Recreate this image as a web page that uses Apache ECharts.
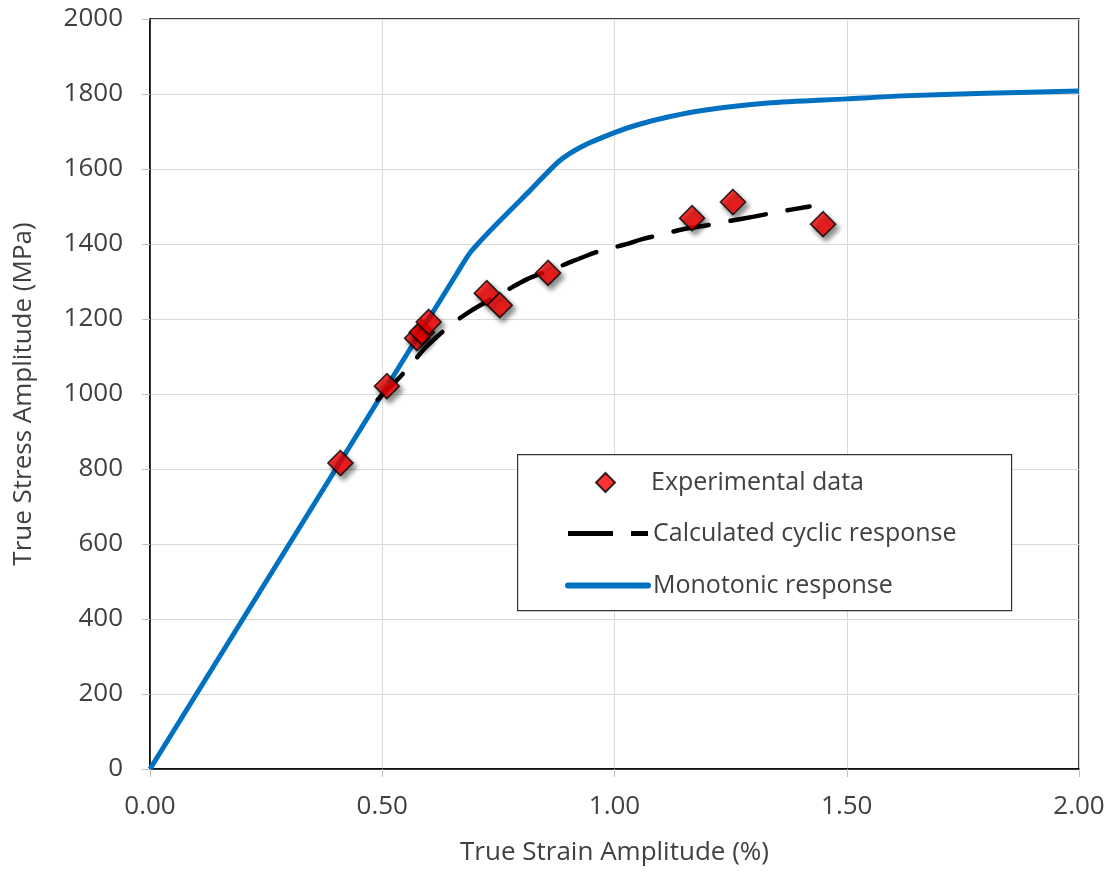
<!DOCTYPE html>
<html>
<head>
<meta charset="utf-8">
<script src="https://cdn.jsdelivr.net/npm/echarts@6/dist/echarts.min.js"></script>
<style>
html,body{margin:0;padding:0;background:#fff;}
#chart{width:1115px;height:872px;}
</style>
</head>
<body>
<div id="chart"></div>
<script>
// Experimental data (true strain amplitude %, true stress amplitude MPa)
const expStrain = [0.41, 0.51, 0.575, 0.585, 0.60, 0.725, 0.753, 0.857, 1.167, 1.255, 1.449];
const expStress = [816, 1021, 1149, 1165, 1192, 1269, 1237, 1323, 1469, 1512, 1453];

// Calculated cyclic response
const cycStrain = [0.49, 0.53, 0.56, 0.59, 0.62, 0.65, 0.69, 0.73, 0.77, 0.81, 0.85, 0.89, 0.93, 0.97, 1.02, 1.06, 1.10, 1.15, 1.20, 1.25, 1.30, 1.35, 1.42];
const cycStress = [985, 1035, 1075, 1120, 1155, 1187, 1221, 1250, 1278, 1305, 1325, 1344, 1364, 1382, 1398, 1413, 1425, 1440, 1450, 1462, 1473, 1485, 1500];

// Monotonic response
const monStrain = [0, 0.2, 0.4, 0.6, 0.66, 0.69, 0.75, 0.82, 0.88, 0.93, 1.0, 1.05, 1.12, 1.2, 1.33, 1.5, 1.62, 1.8, 2.0];
const monStress = [0, 400, 800, 1200, 1320, 1378, 1458, 1545, 1620, 1660, 1697, 1718, 1740, 1758, 1776, 1787, 1795, 1802, 1808];

const xTicks = [0, 0.5, 1.0, 1.5, 2.0];
const yTicks = [0, 200, 400, 600, 800, 1000, 1200, 1400, 1600, 1800, 2000];

const zip = (a, b) => a.map((v, i) => [v, b[i]]);
const FONT = 'Open Sans';
const TXT = '#404040';
const LEG_FS = 25;

const chart = echarts.init(document.getElementById('chart'), null, {renderer: 'canvas'});
chart.setOption({
  animation: false,
  backgroundColor: '#fff',
  textStyle: {fontFamily: FONT},
  grid: {left: 150, right: 36, top: 19, bottom: 103, show: true, borderColor: '#000', borderWidth: 1.5},
  graphic: [{
    type: 'rect', left: 517, top: 454, z: 90,
    shape: {width: 494, height: 156},
    style: {fill: '#fff', stroke: '#333', lineWidth: 1.2}
  }],
  xAxis: {
    type: 'value', min: xTicks[0], max: xTicks[xTicks.length - 1], interval: 0.5,
    name: 'True Strain Amplitude (%)', nameLocation: 'middle', nameGap: 71,
    nameTextStyle: {fontFamily: FONT, fontSize: 26, color: TXT},
    axisLine: {show: true, lineStyle: {color: '#000', width: 1.5}},
    axisTick: {show: true, inside: false, length: 8, lineStyle: {color: '#bfbfbf'}},
    axisLabel: {fontFamily: FONT, fontSize: 26, color: TXT, margin: 25, formatter: v => v.toFixed(2)},
    splitLine: {show: true, lineStyle: {color: '#d9d9d9', width: 1}}
  },
  yAxis: {
    type: 'value', min: yTicks[0], max: yTicks[yTicks.length - 1], interval: 200,
    name: 'True Stress Amplitude (MPa)', nameLocation: 'middle', nameGap: 113,
    nameTextStyle: {fontFamily: FONT, fontSize: 26, color: TXT},
    axisLine: {show: true, lineStyle: {color: '#000', width: 1.5}},
    axisTick: {show: true, inside: false, length: 8, lineStyle: {color: '#bfbfbf'}},
    axisLabel: {fontFamily: FONT, fontSize: 26, color: TXT, margin: 27, formatter: v => String(v)},
    splitLine: {show: true, lineStyle: {color: '#d9d9d9', width: 1}}
  },
  legend: [
    {
      orient: 'vertical', left: 595, top: 470, z: 100, padding: 0,
      itemWidth: 19, itemHeight: 19,
      textStyle: {fontFamily: FONT, fontSize: LEG_FS, color: TXT, padding: [0, 0, 0, 31]},
      data: [{name: 'Experimental data', icon: 'diamond'}]
    },
    {
      orient: 'vertical', left: 565, top: 521, z: 100, padding: 0,
      itemGap: 27, itemWidth: 80, itemHeight: 20,
      itemStyle: {opacity: 0},
      textStyle: {fontFamily: FONT, fontSize: LEG_FS, color: TXT},
      data: [
        {name: 'Calculated cyclic response', lineStyle: {width: 5, type: [45, 18], cap: 'butt', color: '#000'}},
        {name: 'Monotonic response', lineStyle: {width: 6, cap: 'round', color: '#0070c0'}}
      ]
    }
  ],
  series: [
    {
      name: 'Monotonic response', type: 'line', data: zip(monStrain, monStress),
      symbol: 'none', showSymbol: false, smooth: 0.25, z: 2,
      lineStyle: {color: '#0070c0', width: 5}, itemStyle: {color: '#0070c0'}
    },
    {
      name: 'Calculated cyclic response', type: 'line', data: zip(cycStrain, cycStress),
      symbol: 'none', showSymbol: false, smooth: 0.3, z: 3,
      lineStyle: {color: '#000', width: 4.5, type: [36, 22], cap: 'round'}, itemStyle: {color: '#000'}
    },
    {
      name: 'Experimental data', type: 'scatter', data: zip(expStrain, expStress),
      symbol: 'diamond', symbolSize: 25, z: 4,
      itemStyle: {color: '#ff0000', borderColor: '#000', borderWidth: 1.6,
        shadowBlur: 5, shadowOffsetX: 3, shadowOffsetY: 4, shadowColor: 'rgba(0,0,0,0.55)'}
    }
  ]
});
</script>
</body>
</html>
